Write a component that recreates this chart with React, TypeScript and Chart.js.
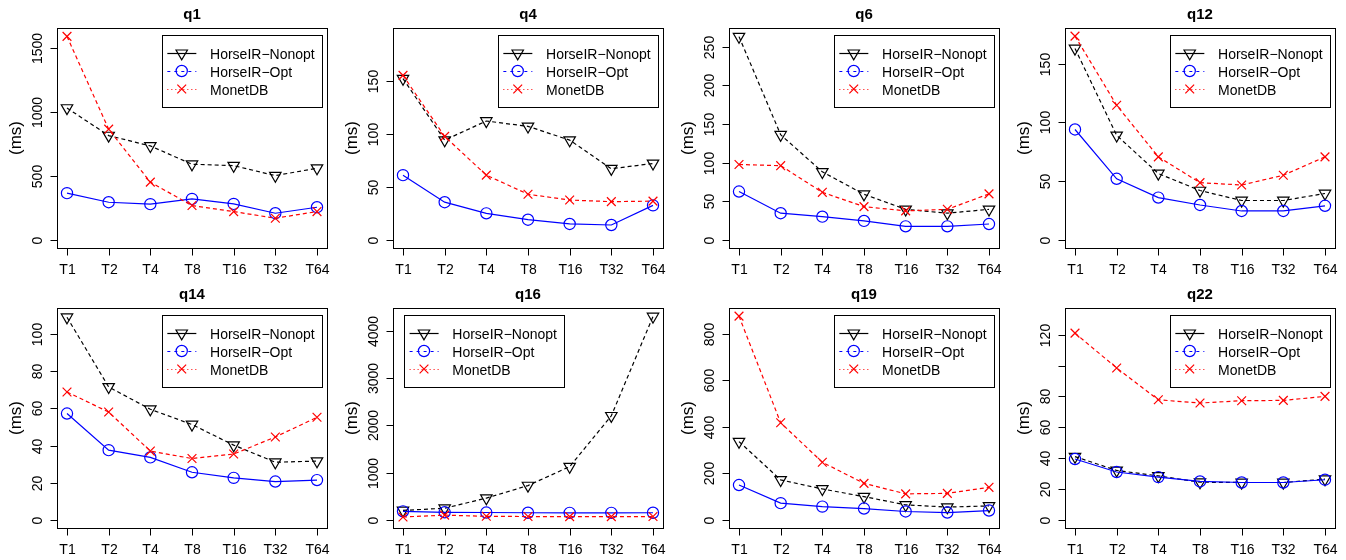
import React, { useEffect, useRef } from "react";
import { Chart, registerables } from "chart.js";

Chart.register(...registerables);

// ---------- data ----------
const threads = ["T1", "T2", "T4", "T8", "T16", "T32", "T64"];
const seriesNames = ["HorseIR\u2212Nonopt", "HorseIR\u2212Opt", "MonetDB"];

const q1Nonopt = [1030, 815, 734, 591, 580, 502, 560];
const q1Opt = [365, 294, 279, 320, 281, 208, 255];
const q1Monet = [1590, 865, 451, 268, 221, 169, 221];
const q1Ticks = [0, 500, 1000, 1500];
const q1TickLabels = ["0", "500", "1000", "1500"];

const q4Nonopt = [152, 94, 112, 107, 94, 67, 72];
const q4Opt = [61, 35.5, 25, 19, 15, 14, 32.5];
const q4Monet = [155, 97.5, 61, 43, 37.5, 36, 36.5];
const q4Ticks = [0, 50, 100, 150];
const q4TickLabels = ["0", "50", "100", "150"];

const q6Nonopt = [263, 136, 88, 59, 39.5, 34.5, 39.5];
const q6Opt = [62.5, 34.5, 30, 24.5, 17.5, 17.5, 20.5];
const q6Monet = [97.5, 96, 61.5, 43, 37.5, 39.5, 59.5];
const q6Ticks = [0, 50, 100, 150, 200, 250];
const q6TickLabels = ["0", "50", "100", "150", "200", "250"];

const q12Nonopt = [163, 89, 56.5, 42, 33.5, 33.5, 39.5];
const q12Opt = [94, 52, 36, 29.7, 24.6, 24.6, 29];
const q12Monet = [173.5, 114.6, 70.7, 48.7, 46.7, 55, 70.7];
const q12Ticks = [0, 50, 100, 150];
const q12TickLabels = ["0", "50", "100", "150"];

const q14Nonopt = [109, 71.5, 59.5, 51.3, 40.2, 31, 31.6];
const q14Opt = [57.2, 37.5, 33.6, 25.6, 22.6, 20.6, 21.4];
const q14Monet = [68.8, 58, 37, 33, 35.4, 44.6, 55.2];
const q14Ticks = [0, 20, 40, 60, 80, 100];
const q14TickLabels = ["0", "20", "40", "60", "80", "100"];

const q16Nonopt = [200, 245, 460, 725, 1125, 2200, 4300];
const q16Opt = [180, 160, 155, 150, 148, 148, 150];
const q16Monet = [60, 100, 75, 70, 68, 68, 70];
const q16Ticks = [0, 1000, 2000, 3000, 4000];
const q16TickLabels = ["0", "1000", "2000", "3000", "4000"];

const q19Nonopt = [337, 172, 133, 100, 64.5, 55, 60];
const q19Opt = [150, 72, 57, 48.7, 36, 31.5, 40];
const q19Monet = [877, 418, 248, 157, 112, 114, 140];
const q19Ticks = [0, 200, 400, 600, 800];
const q19TickLabels = ["0", "200", "400", "600", "800"];

const q22Nonopt = [41, 32, 28.5, 24.4, 24.2, 24.2, 26.4];
const q22Opt = [39.4, 31, 27.7, 24.9, 24.2, 24.2, 26];
const q22Monet = [121, 98.4, 77.8, 75.7, 77.2, 77.4, 80];
const q22Ticks = [0, 20, 40, 60, 80, 100, 120];
const q22TickLabels = ["0", "20", "40", "60", "80", "", "120"];

const panelTitles = ["q1", "q4", "q6", "q12", "q14", "q16", "q19", "q22"];
const panelYLimits = [1592, 192, 263.6, 173.5, 109.6, 4307, 877, 132];
const legendSides = ["right", "right", "right", "right", "right", "left", "right", "right"];

const panels = [
  { nonopt: q1Nonopt, opt: q1Opt, monet: q1Monet, ticks: q1Ticks, tickLabels: q1TickLabels },
  { nonopt: q4Nonopt, opt: q4Opt, monet: q4Monet, ticks: q4Ticks, tickLabels: q4TickLabels },
  { nonopt: q6Nonopt, opt: q6Opt, monet: q6Monet, ticks: q6Ticks, tickLabels: q6TickLabels },
  { nonopt: q12Nonopt, opt: q12Opt, monet: q12Monet, ticks: q12Ticks, tickLabels: q12TickLabels },
  { nonopt: q14Nonopt, opt: q14Opt, monet: q14Monet, ticks: q14Ticks, tickLabels: q14TickLabels },
  { nonopt: q16Nonopt, opt: q16Opt, monet: q16Monet, ticks: q16Ticks, tickLabels: q16TickLabels },
  { nonopt: q19Nonopt, opt: q19Opt, monet: q19Monet, ticks: q19Ticks, tickLabels: q19TickLabels },
  { nonopt: q22Nonopt, opt: q22Opt, monet: q22Monet, ticks: q22Ticks, tickLabels: q22TickLabels },
];

// ---------- styling ----------
const FONT = '"Liberation Sans", Arial, Helvetica, sans-serif';
const PANEL_W = 336;
const PANEL_H = 280;
const BLACK = "#000000";
const BLUE = "#0000FF";
const RED = "#FF0000";
const TRI_R = 6.6;
const CIRC_R = 5.6;
const CROSS_R = 6.2;
const LINE_W = 1.2;

function drawMarker(ctx: CanvasRenderingContext2D, kind: string, x: number, y: number, color: string) {
  ctx.save();
  ctx.setLineDash([]);
  ctx.strokeStyle = color;
  ctx.lineWidth = LINE_W;
  ctx.beginPath();
  if (kind === "tri") {
    const r = TRI_R;
    ctx.moveTo(x, y + r);
    ctx.lineTo(x - r * 0.866, y - r / 2);
    ctx.lineTo(x + r * 0.866, y - r / 2);
    ctx.closePath();
  } else if (kind === "circ") {
    ctx.arc(x, y, CIRC_R, 0, Math.PI * 2);
  } else {
    const h = CROSS_R * 0.7071;
    ctx.moveTo(x - h, y - h);
    ctx.lineTo(x + h, y + h);
    ctx.moveTo(x - h, y + h);
    ctx.lineTo(x + h, y - h);
  }
  ctx.stroke();
  ctx.restore();
}

const rStylePlugin = {
  id: "rstyle",
  afterDraw(chart: any, _args: any, opts: any) {
    const ctx: CanvasRenderingContext2D = chart.ctx;
    const a = chart.chartArea;
    const xs = chart.scales.x;
    const ys = chart.scales.y;
    ctx.save();
    ctx.setLineDash([]);
    ctx.strokeStyle = BLACK;
    ctx.fillStyle = BLACK;
    ctx.lineWidth = 1;

    const L = Math.round(a.left) + 0.5;
    const T = Math.round(a.top) + 0.5;
    const R = Math.round(a.right) + 0.5;
    const B = Math.round(a.bottom) + 0.5;
    // box
    ctx.strokeRect(L, T, R - L, B - T);

    // x axis ticks & labels
    ctx.font = `14px ${FONT}`;
    ctx.textAlign = "center";
    ctx.textBaseline = "alphabetic";
    opts.xLabels.forEach((lab: string, i: number) => {
      const px = Math.round(xs.getPixelForValue(i + 1)) + 0.5;
      ctx.beginPath();
      ctx.moveTo(px, B);
      ctx.lineTo(px, B + 7);
      ctx.stroke();
      ctx.fillText(lab, px, a.bottom + 26);
    });

    // y axis ticks & labels (rotated, R style)
    opts.yTicks.forEach((v: number, i: number) => {
      const py = Math.round(ys.getPixelForValue(v)) + 0.5;
      ctx.beginPath();
      ctx.moveTo(L - 7, py);
      ctx.lineTo(L, py);
      ctx.stroke();
      const lab = opts.yLabels[i];
      if (lab) {
        ctx.save();
        ctx.translate(a.left - 15, py);
        ctx.rotate(-Math.PI / 2);
        ctx.textAlign = "center";
        ctx.textBaseline = "alphabetic";
        ctx.fillText(lab, 0, 0);
        ctx.restore();
      }
    });

    // y axis title
    ctx.save();
    ctx.font = `17px ${FONT}`;
    ctx.translate(21, (a.top + a.bottom) / 2);
    ctx.rotate(-Math.PI / 2);
    ctx.textAlign = "center";
    ctx.textBaseline = "alphabetic";
    ctx.fillText("(ms)", 0, 0);
    ctx.restore();

    // title
    ctx.font = `bold 15px ${FONT}`;
    ctx.textAlign = "center";
    ctx.fillText(opts.title, (a.left + a.right) / 2, 19);

    // legend
    ctx.font = `14px ${FONT}`;
    const textW = Math.max(...opts.names.map((n: string) => ctx.measureText(n).width));
    const boxW = 48 + textW + 7.7;
    let lx: number;
    if (opts.legendSide === "left") lx = a.left + 11.3;
    else lx = a.right - 4.6 - boxW;
    const ly = a.top + 7;
    const boxH = 72;
    ctx.fillStyle = "#FFFFFF";
    ctx.fillRect(lx, ly, boxW, boxH);
    ctx.strokeStyle = BLACK;
    ctx.strokeRect(Math.round(lx) + 0.5, Math.round(ly) + 0.5, Math.round(boxW), boxH);
    const rowYs = [ly + 18.3, ly + 36, ly + 54];
    const legColors = [BLACK, BLUE, RED];
    const legDash = [[], [3, 4], [1, 3]];
    const legMarks = ["tri", "circ", "x"];
    opts.names.forEach((n: string, i: number) => {
      const ry = rowYs[i];
      ctx.save();
      ctx.strokeStyle = legColors[i];
      ctx.lineWidth = LINE_W;
      ctx.setLineDash(legDash[i]);
      ctx.beginPath();
      ctx.moveTo(lx + 5.3, Math.round(ry) + 0.5);
      ctx.lineTo(lx + 34.3, Math.round(ry) + 0.5);
      ctx.stroke();
      ctx.restore();
      drawMarker(ctx, legMarks[i], lx + 19.7, ry, legColors[i]);
      ctx.fillStyle = BLACK;
      ctx.textAlign = "left";
      ctx.textBaseline = "alphabetic";
      ctx.fillText(n, lx + 48, ry + 5.5);
    });
    ctx.restore();
  },
};

function Panel({ index }: { index: number }) {
  const ref = useRef<HTMLCanvasElement | null>(null);
  useEffect(() => {
    const p = panels[index];
    const ylim = panelYLimits[index];
    const toPts = (arr: number[]) => arr.map((y, i) => ({ x: i + 1, y }));
    const chart = new Chart(ref.current as HTMLCanvasElement, {
      type: "line",
      data: {
        datasets: [
          {
            label: seriesNames[0],
            data: toPts(p.nonopt),
            borderColor: BLACK,
            borderWidth: LINE_W,
            borderDash: [4, 3],
            pointStyle: "triangle",
            pointRotation: 180,
            pointRadius: TRI_R,
            pointBorderColor: BLACK,
            pointBackgroundColor: "rgba(0,0,0,0)",
            pointBorderWidth: LINE_W,
            tension: 0,
            clip: false,
            order: 3,
          } as any,
          {
            label: seriesNames[1],
            data: toPts(p.opt),
            borderColor: BLUE,
            borderWidth: LINE_W,
            pointStyle: "circle",
            pointRadius: CIRC_R,
            pointBorderColor: BLUE,
            pointBackgroundColor: "rgba(0,0,0,0)",
            pointBorderWidth: LINE_W,
            tension: 0,
            clip: false,
            order: 2,
          } as any,
          {
            label: seriesNames[2],
            data: toPts(p.monet),
            borderColor: RED,
            borderWidth: LINE_W,
            borderDash: [4, 3],
            pointStyle: "crossRot",
            pointRadius: CROSS_R,
            pointBorderColor: RED,
            pointBackgroundColor: "rgba(0,0,0,0)",
            pointBorderWidth: LINE_W,
            tension: 0,
            clip: false,
            order: 1,
          } as any,
        ],
      },
      options: {
        animation: false,
        responsive: false,
        devicePixelRatio: 1,
        events: [],
        layout: { padding: { left: 57, right: 9, top: 28, bottom: 32 } },
        scales: {
          x: { type: "linear", min: 0.76, max: 7.24, display: false },
          y: { type: "linear", min: -0.04 * ylim, max: 1.04 * ylim, display: false },
        },
        plugins: {
          legend: { display: false },
          title: { display: false },
          tooltip: { enabled: false },
          rstyle: {
            title: panelTitles[index],
            xLabels: threads,
            yTicks: p.ticks,
            yLabels: p.tickLabels,
            legendSide: legendSides[index],
            names: seriesNames,
          },
        } as any,
      },
      plugins: [rStylePlugin],
    });
    return () => chart.destroy();
  }, [index]);
  const col = index % 4;
  const row = Math.floor(index / 4);
  return (
    <canvas
      ref={ref}
      width={PANEL_W}
      height={PANEL_H}
      style={{ position: "absolute", left: col * PANEL_W, top: row * PANEL_H, width: PANEL_W, height: PANEL_H }}
    />
  );
}

export default function App() {
  return (
    <div style={{ position: "absolute", left: 0, top: 0, width: 1346, height: 560, background: "#FFFFFF" }}>
      {panelTitles.map((_, i) => (
        <Panel key={i} index={i} />
      ))}
    </div>
  );
}
